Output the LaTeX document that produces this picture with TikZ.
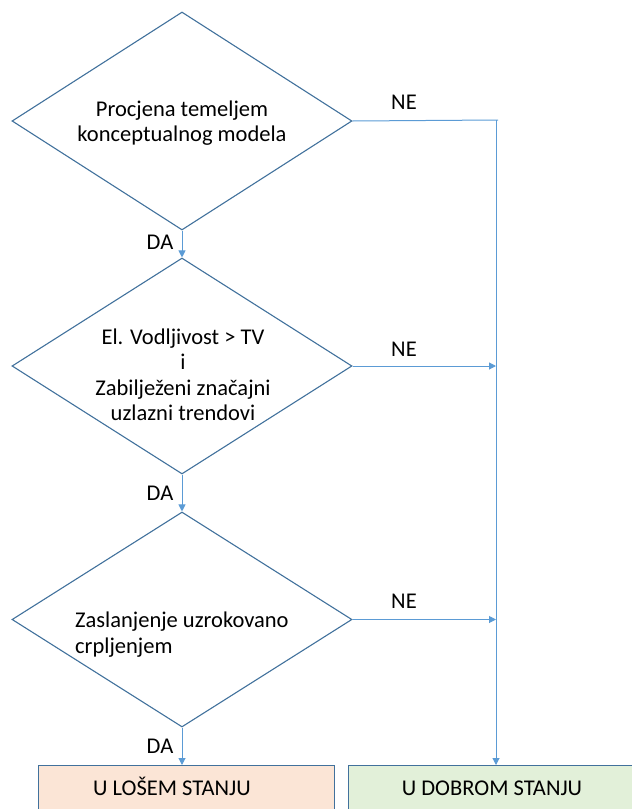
\documentclass[tikz,border=0pt]{standalone}
\usepackage{fontspec}
\setmainfont{Carlito}
\usetikzlibrary{shapes.geometric,arrows.meta}
\definecolor{shapeblue}{HTML}{41719C}
\definecolor{linkblue}{HTML}{5B9BD5}
\definecolor{peach}{HTML}{FBE5D6}
\definecolor{mint}{HTML}{E2F0D9}
\tikzset{
  dec/.style={draw=shapeblue, line width=1.1pt, shape=diamond, minimum width=340pt, minimum height=218pt, inner sep=0pt},
  lbl/.style={font=\fontsize{22.5}{25.5}\selectfont, text=black, inner sep=0pt},
  endbox/.style={draw=shapeblue, line width=1.1pt, minimum width=296pt, minimum height=60pt, anchor=north west},
  link/.style={draw=linkblue, line width=1pt},
  arr/.style={link, -{Triangle[length=7pt,width=7pt]}}
}
\begin{document}
\begin{tikzpicture}[x=1pt,y=-1pt]
\useasboundingbox (0,0) rectangle (632,809);
\clip (0,0) rectangle (632,809);
\node[dec] (d1) at (182,121) {};
\node[dec, minimum height=216pt] (d2) at (182,366) {};
\node[dec, minimum height=215pt] (d3) at (182,619.5) {};
\node[endbox, fill=peach] (bad) at (38,765) {};
\node[endbox, fill=mint, minimum width=300pt] (good) at (348,765) {};

\node[lbl, align=center] (t1) at (182,123) {Procjena temeljem\\konceptualnog modela};
\node[lbl, align=center] (t2) at (183,375) {El. Vodljivost > TV\\i\\Zabilježeni značajni\\uzlazni trendovi};
\node[lbl, align=left, anchor=west] (t3) at (75,634.5) {Zaslanjenje uzrokovano\\crpljenjem};
\node[lbl, anchor=base] (tb) at (172,795.5) {U LOŠEM STANJU};
\node[lbl, anchor=base] (tg) at (492,795.5) {U DOBROM STANJU};

\node[lbl] (ne1) at (404,102) {NE};
\node[lbl] (ne2) at (404,349) {NE};
\node[lbl] (ne3) at (404,601) {NE};
\node[lbl] (da1) at (160,242) {DA};
\node[lbl] (da2) at (160,493) {DA};
\node[lbl] (da3) at (160,746) {DA};

\coordinate (c1) at (498,120);
\coordinate (v1) at (496,120);

\draw[arr] (d1.south) -- (d2.north);
\draw[arr] (d2.south) -- (d3.north);
\draw[arr] (d3.south) -- (d3.south |- bad.north);
\draw[link] (d1.east) -- (c1);
\draw[arr] (v1) -- (v1 |- good.north);
\draw[arr] (d2.east) -- (d2.east -| v1);
\draw[arr] (d3.east) -- (d3.east -| v1);
\end{tikzpicture}
\end{document}
